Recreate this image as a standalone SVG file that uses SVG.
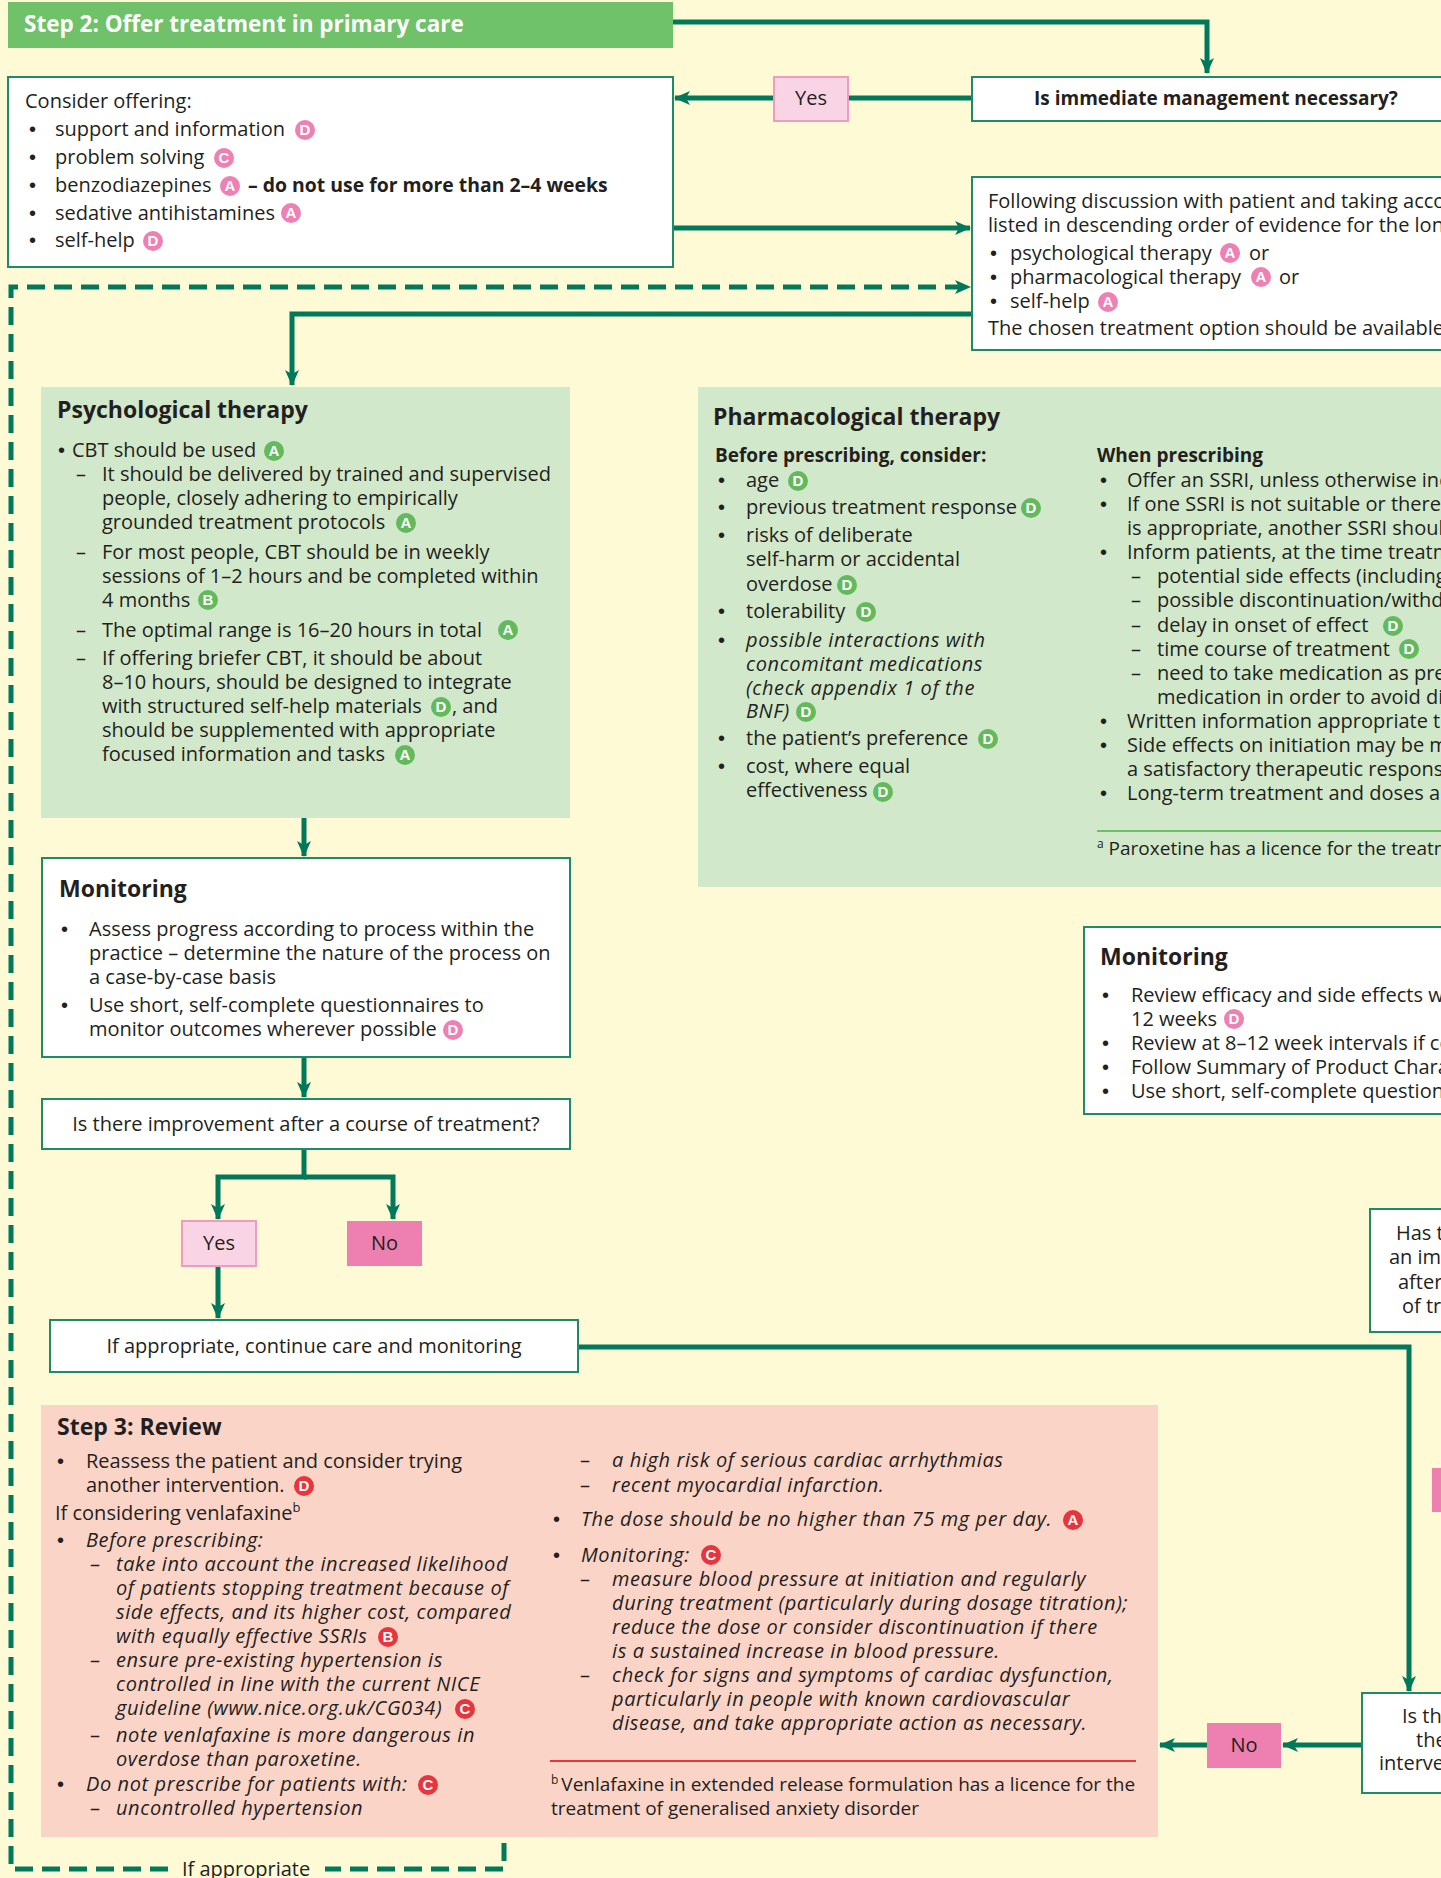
<svg xmlns="http://www.w3.org/2000/svg" width="1441" height="1878" viewBox="0 0 1441 1878">
<defs>
<style>
text{font-family:"Open Sans","Liberation Sans",sans-serif;font-size:20px;fill:#231f20}
.b{font-weight:bold}
.i{font-style:italic;letter-spacing:0.6px}
.h{font-size:23px;font-weight:bold}
.c{text-anchor:middle}
.w{fill:#fff}
.sm{font-size:19px}
.bu{font-family:"Liberation Sans",sans-serif;font-size:20px}
.box{fill:#fff;stroke:#1f8a68;stroke-width:2}
.conn{fill:none;stroke:#00785a;stroke-width:5}
.dash{stroke-dasharray:18 9}
.bp circle{fill:#ee80b3}
.bgr circle{fill:#62ba5c}
.brd circle{fill:#e8343c}
.bp text,.bgr text,.brd text{font-size:15px;font-weight:bold;fill:#fff;text-anchor:middle;font-family:"Liberation Sans",sans-serif;letter-spacing:0}
</style>
<marker id="ah" viewBox="0 0 16 14" refX="15" refY="7" markerWidth="16" markerHeight="14" markerUnits="userSpaceOnUse" orient="auto">
<path d="M0,0 L16,7 L0,14 L4,7 z" fill="#00785a"/>
</marker>
</defs>
<rect x="0" y="0" width="1441" height="1878" fill="#fefad6"/>

<g id="connectors">
<path class="conn" d="M673,22 H1207 V73" marker-end="url(#ah)"/>
<path class="conn" d="M972,98 H675" marker-end="url(#ah)"/>
<path class="conn" d="M673,228 H970" marker-end="url(#ah)"/>
<path class="conn dash" d="M504,1843 V1869 H325"/>
<path class="conn dash" d="M168,1869 H11 V287 H970" marker-end="url(#ah)"/>
<path class="conn" d="M972,314 H292 V385" marker-end="url(#ah)"/>
<path class="conn" d="M304,818 V856" marker-end="url(#ah)"/>
<path class="conn" d="M304,1057 V1097" marker-end="url(#ah)"/>
<path class="conn" d="M304,1149 V1177 H218 V1219" marker-end="url(#ah)"/>
<path class="conn" d="M304,1177 H393 V1219" marker-end="url(#ah)"/>
<path class="conn" d="M218,1266 V1318" marker-end="url(#ah)"/>
<path class="conn" d="M578,1347 H1409 V1691" marker-end="url(#ah)"/>
<path class="conn" d="M1362,1745 H1283" marker-end="url(#ah)"/>
<path class="conn" d="M1207,1745 H1160" marker-end="url(#ah)"/>
</g>

<g id="step2-header">
<rect x="8" y="2" width="665" height="46" fill="#6fc16a"/>
<text x="24" y="32" class="h w" style="font-size:22.5px">Step 2: Offer treatment in primary care</text>
</g>

<g id="yes-top">
<rect x="774" y="77" width="74" height="44" fill="#f9d4e4" stroke="#f29bc2" stroke-width="2"/>
<text x="811" y="105" class="c">Yes</text>
</g>

<g id="immediate-question">
<rect class="box" x="972" y="77" width="490" height="44"/>
<text x="1034" y="105" class="b" style="font-size:19px">Is immediate management necessary?</text>
</g>

<g id="consider-offering">
<rect class="box" x="8" y="77" width="665" height="190"/>
<text x="25" y="108">Consider offering:</text>
<text x="29" y="136" class="bu">•</text><text x="55" y="136">support and information</text>
<g class="bp"><circle cx="305" cy="130" r="10"/><text x="305" y="135">D</text></g>
<text x="29" y="164" class="bu">•</text><text x="55" y="164">problem solving</text>
<g class="bp"><circle cx="224" cy="158" r="10"/><text x="224" y="163">C</text></g>
<text x="29" y="192" class="bu">•</text><text x="55" y="192">benzodiazepines</text>
<g class="bp"><circle cx="230" cy="186" r="10"/><text x="230" y="191">A</text></g>
<text x="248" y="192" class="b" style="font-size:19.4px">– do not use for more than 2–4 weeks</text>
<text x="29" y="220" class="bu">•</text><text x="55" y="220">sedative antihistamines</text>
<g class="bp"><circle cx="291" cy="213" r="10"/><text x="291" y="218">A</text></g>
<text x="29" y="247" class="bu">•</text><text x="55" y="247">self-help</text>
<g class="bp"><circle cx="153" cy="241" r="10"/><text x="153" y="246">D</text></g>
</g>

<g id="following-discussion">
<rect class="box" x="972" y="177" width="490" height="173"/>
<text x="988" y="208">Following discussion with patient and taking account</text>
<text x="988" y="232">listed in descending order of evidence for the longest</text>
<text x="990" y="260" class="bu">•</text><text x="1010" y="260">psychological therapy</text>
<g class="bp"><circle cx="1230" cy="253" r="10"/><text x="1230" y="258">A</text></g>
<text x="1249" y="260">or</text>
<text x="990" y="284" class="bu">•</text><text x="1010" y="284">pharmacological therapy</text>
<g class="bp"><circle cx="1261" cy="277" r="10"/><text x="1261" y="282">A</text></g>
<text x="1279" y="284">or</text>
<text x="990" y="308" class="bu">•</text><text x="1010" y="308">self-help</text>
<g class="bp"><circle cx="1108" cy="302" r="10"/><text x="1108" y="307">A</text></g>
<text x="988" y="335">The chosen treatment option should be available</text>
</g>

<g id="psychological-therapy">
<rect x="41" y="387" width="529" height="431" fill="#d2e8cb"/>
<text x="57" y="418" class="h">Psychological therapy</text>
<text x="58" y="457" class="bu">•</text><text x="72" y="457">CBT should be used</text>
<g class="bgr"><circle cx="274" cy="451" r="10"/><text x="274" y="456">A</text></g>
<text x="76" y="481">–</text><text x="102" y="481">It should be delivered by trained and supervised</text>
<text x="102" y="505">people, closely adhering to empirically</text>
<text x="102" y="529">grounded treatment protocols</text>
<g class="bgr"><circle cx="406" cy="523" r="10"/><text x="406" y="528">A</text></g>
<text x="76" y="559">–</text><text x="102" y="559">For most people, CBT should be in weekly</text>
<text x="102" y="583">sessions of 1–2 hours and be completed within</text>
<text x="102" y="607">4 months</text>
<g class="bgr"><circle cx="208" cy="600" r="10"/><text x="208" y="605">B</text></g>
<text x="76" y="637">–</text><text x="102" y="637">The optimal range is 16–20 hours in total</text>
<g class="bgr"><circle cx="508" cy="630" r="10"/><text x="508" y="635">A</text></g>
<text x="76" y="665">–</text><text x="102" y="665">If offering briefer CBT, it should be about</text>
<text x="102" y="689">8–10 hours, should be designed to integrate</text>
<text x="102" y="713">with structured self-help materials</text>
<g class="bgr"><circle cx="441" cy="707" r="10"/><text x="441" y="712">D</text></g>
<text x="452" y="713">, and</text>
<text x="102" y="737">should be supplemented with appropriate</text>
<text x="102" y="761">focused information and tasks</text>
<g class="bgr"><circle cx="405" cy="755" r="10"/><text x="405" y="760">A</text></g>
</g>

<g id="pharmacological-therapy">
<rect x="698" y="387" width="760" height="500" fill="#d2e8cb"/>
<text x="713" y="425" class="h">Pharmacological therapy</text>
<text x="715" y="462" class="b sm">Before prescribing, consider:</text>
<text x="718" y="487" class="bu">•</text><text x="746" y="487">age</text>
<g class="bgr"><circle cx="798" cy="481" r="10"/><text x="798" y="486">D</text></g>
<text x="718" y="514" class="bu">•</text><text x="746" y="514">previous treatment response</text>
<g class="bgr"><circle cx="1031" cy="508" r="10"/><text x="1031" y="513">D</text></g>
<text x="718" y="542" class="bu">•</text><text x="746" y="542">risks of deliberate</text>
<text x="746" y="566">self-harm or accidental</text>
<text x="746" y="591">overdose</text>
<g class="bgr"><circle cx="847" cy="585" r="10"/><text x="847" y="590">D</text></g>
<text x="718" y="618" class="bu">•</text><text x="746" y="618">tolerability</text>
<g class="bgr"><circle cx="866" cy="612" r="10"/><text x="866" y="617">D</text></g>
<text x="718" y="647" class="bu">•</text><text x="746" y="647" class="i">possible interactions with</text>
<text x="746" y="671" class="i">concomitant medications</text>
<text x="746" y="695" class="i">(check appendix 1 of the</text>
<text x="746" y="718" class="i">BNF)</text>
<g class="bgr"><circle cx="806" cy="712" r="10"/><text x="806" y="717">D</text></g>
<text x="718" y="745" class="bu">•</text><text x="746" y="745">the patient’s preference</text>
<g class="bgr"><circle cx="988" cy="739" r="10"/><text x="988" y="744">D</text></g>
<text x="718" y="773" class="bu">•</text><text x="746" y="773">cost, where equal</text>
<text x="746" y="797">effectiveness</text>
<g class="bgr"><circle cx="883" cy="792" r="10"/><text x="883" y="797">D</text></g>

<text x="1097" y="462" class="b sm">When prescribing</text>
<text x="1100" y="487" class="bu">•</text><text x="1127" y="487">Offer an SSRI, unless otherwise indicated</text>
<text x="1100" y="511" class="bu">•</text><text x="1127" y="511">If one SSRI is not suitable or there</text>
<text x="1127" y="535">is appropriate, another SSRI should</text>
<text x="1100" y="559" class="bu">•</text><text x="1127" y="559">Inform patients, at the time treatment</text>
<text x="1131" y="583">–</text><text x="1157" y="583">potential side effects (including</text>
<text x="1131" y="607">–</text><text x="1157" y="607">possible discontinuation/withdrawal</text>
<text x="1131" y="632">–</text><text x="1157" y="632">delay in onset of effect</text>
<g class="bgr"><circle cx="1393" cy="626" r="10"/><text x="1393" y="631">D</text></g>
<text x="1131" y="656">–</text><text x="1157" y="656">time course of treatment</text>
<g class="bgr"><circle cx="1409" cy="649" r="10"/><text x="1409" y="654">D</text></g>
<text x="1131" y="680">–</text><text x="1157" y="680">need to take medication as prescribed</text>
<text x="1157" y="704">medication in order to avoid discontinuation</text>
<text x="1100" y="728" class="bu">•</text><text x="1127" y="728">Written information appropriate to</text>
<text x="1100" y="752" class="bu">•</text><text x="1127" y="752">Side effects on initiation may be minimised</text>
<text x="1127" y="776">a satisfactory therapeutic response</text>
<text x="1100" y="800" class="bu">•</text><text x="1127" y="800">Long-term treatment and doses are</text>
<line x1="1097" y1="831" x2="1441" y2="831" stroke="#6cc067" stroke-width="2"/>
<text x="1097" y="855" class="sm"><tspan font-size="12" dy="-7">a</tspan><tspan dy="7"> Paroxetine has a licence for the treatment</tspan></text>
</g>

<g id="monitoring-left">
<rect class="box" x="42" y="858" width="528" height="199"/>
<text x="59" y="897" class="h">Monitoring</text>
<text x="61" y="936" class="bu">•</text><text x="89" y="936">Assess progress according to process within the</text>
<text x="89" y="960">practice – determine the nature of the process on</text>
<text x="89" y="984">a case-by-case basis</text>
<text x="61" y="1012" class="bu">•</text><text x="89" y="1012">Use short, self-complete questionnaires to</text>
<text x="89" y="1036">monitor outcomes wherever possible</text>
<g class="bp"><circle cx="453" cy="1030" r="10"/><text x="453" y="1035">D</text></g>
</g>

<g id="improvement-question">
<rect class="box" x="42" y="1099" width="528" height="50"/>
<text x="306" y="1131" class="c">Is there improvement after a course of treatment?</text>
</g>

<g id="yes-left">
<rect x="182" y="1221" width="74" height="45" fill="#f9d4e4" stroke="#f29bc2" stroke-width="2"/>
<text x="219" y="1250" class="c">Yes</text>
</g>
<g id="no-left">
<rect x="347" y="1221" width="75" height="45" fill="#ee80b1"/>
<text x="384.5" y="1250" class="c">No</text>
</g>

<g id="continue-care">
<rect class="box" x="50" y="1320" width="528" height="52"/>
<text x="314" y="1353" class="c">If appropriate, continue care and monitoring</text>
</g>

<g id="monitoring-right">
<rect class="box" x="1084" y="927" width="380" height="187"/>
<text x="1100" y="965" class="h">Monitoring</text>
<text x="1102" y="1002" class="bu">•</text><text x="1131" y="1002">Review efficacy and side effects within</text>
<text x="1131" y="1026">12 weeks</text>
<g class="bp"><circle cx="1234" cy="1019" r="10"/><text x="1234" y="1024">D</text></g>
<text x="1102" y="1050" class="bu">•</text><text x="1131" y="1050">Review at 8–12 week intervals if continued</text>
<text x="1102" y="1074" class="bu">•</text><text x="1131" y="1074">Follow Summary of Product Characteristics</text>
<text x="1102" y="1098" class="bu">•</text><text x="1131" y="1098">Use short, self-complete questionnaires</text>
</g>

<g id="has-improvement">
<rect class="box" x="1370" y="1209" width="100" height="123"/>
<text x="1396" y="1240">Has there</text>
<text x="1389" y="1264">an improvement</text>
<text x="1398" y="1289">after</text>
<text x="1402" y="1313">of treatment</text>
</g>

<g id="pink-right">
<rect x="1432" y="1468" width="20" height="44" fill="#ee80b1"/>
</g>

<g id="is-there">
<rect class="box" x="1362" y="1693" width="100" height="100"/>
<text x="1402" y="1723">Is there</text>
<text x="1416" y="1747">the</text>
<text x="1379" y="1770">intervention</text>
</g>

<g id="no-bottom">
<rect x="1207" y="1723" width="74" height="45" fill="#ee80b1"/>
<text x="1244" y="1752" class="c">No</text>
</g>

<g id="step3-review">
<rect x="41" y="1405" width="1117" height="432" fill="#fbd4c8"/>
<text x="57" y="1435" class="h">Step 3: Review</text>
<text x="57" y="1468" class="bu">•</text><text x="86" y="1468">Reassess the patient and consider trying</text>
<text x="86" y="1492">another intervention.</text>
<g class="brd"><circle cx="304" cy="1486" r="10"/><text x="304" y="1491">D</text></g>
<text x="55" y="1520">If considering venlafaxine<tspan font-size="13" dy="-8">b</tspan></text>
<text x="57" y="1547" class="bu">•</text><text x="86" y="1547" class="i">Before prescribing:</text>
<text x="90" y="1571">–</text><text x="116" y="1571" class="i">take into account the increased likelihood</text>
<text x="116" y="1595" class="i">of patients stopping treatment because of</text>
<text x="116" y="1619" class="i">side effects, and its higher cost, compared</text>
<text x="116" y="1643" class="i">with equally effective SSRIs</text>
<g class="brd"><circle cx="388" cy="1637" r="10"/><text x="388" y="1642">B</text></g>
<text x="90" y="1667">–</text><text x="116" y="1667" class="i">ensure pre-existing hypertension is</text>
<text x="116" y="1691" class="i">controlled in line with the current NICE</text>
<text x="116" y="1715" class="i">guideline (www.nice.org.uk/CG034)</text>
<g class="brd"><circle cx="465" cy="1709" r="10"/><text x="465" y="1714">C</text></g>
<text x="90" y="1742">–</text><text x="116" y="1742" class="i">note venlafaxine is more dangerous in</text>
<text x="116" y="1766" class="i">overdose than paroxetine.</text>
<text x="57" y="1791" class="bu">•</text><text x="86" y="1791" class="i">Do not prescribe for patients with:</text>
<g class="brd"><circle cx="428" cy="1785" r="10"/><text x="428" y="1790">C</text></g>
<text x="90" y="1815">–</text><text x="116" y="1815" class="i">uncontrolled hypertension</text>

<text x="580" y="1467">–</text><text x="612" y="1467" class="i">a high risk of serious cardiac arrhythmias</text>
<text x="580" y="1492">–</text><text x="612" y="1492" class="i">recent myocardial infarction.</text>
<text x="553" y="1526" class="bu">•</text><text x="581" y="1526" class="i">The dose should be no higher than 75 mg per day.</text>
<g class="brd"><circle cx="1073" cy="1520" r="10"/><text x="1073" y="1525">A</text></g>
<text x="553" y="1562" class="bu">•</text><text x="581" y="1562" class="i">Monitoring:</text>
<g class="brd"><circle cx="711" cy="1555" r="10"/><text x="711" y="1560">C</text></g>
<text x="580" y="1586">–</text><text x="612" y="1586" class="i">measure blood pressure at initiation and regularly</text>
<text x="612" y="1610" class="i">during treatment (particularly during dosage titration);</text>
<text x="612" y="1634" class="i">reduce the dose or consider discontinuation if there</text>
<text x="612" y="1658" class="i">is a sustained increase in blood pressure.</text>
<text x="580" y="1682">–</text><text x="612" y="1682" class="i">check for signs and symptoms of cardiac dysfunction,</text>
<text x="612" y="1706" class="i">particularly in people with known cardiovascular</text>
<text x="612" y="1730" class="i">disease, and take appropriate action as necessary.</text>
<line x1="550" y1="1761" x2="1136" y2="1761" stroke="#e8343c" stroke-width="2"/>
<text x="551" y="1791" class="sm"><tspan font-size="12" dy="-7">b</tspan><tspan dy="7" dx="3">Venlafaxine in extended release formulation has a licence for the</tspan></text>
<text x="551" y="1815" class="sm">treatment of generalised anxiety disorder</text>
</g>

<g id="if-appropriate-label">
<text x="182" y="1876">If appropriate</text>
</g>
</svg>
